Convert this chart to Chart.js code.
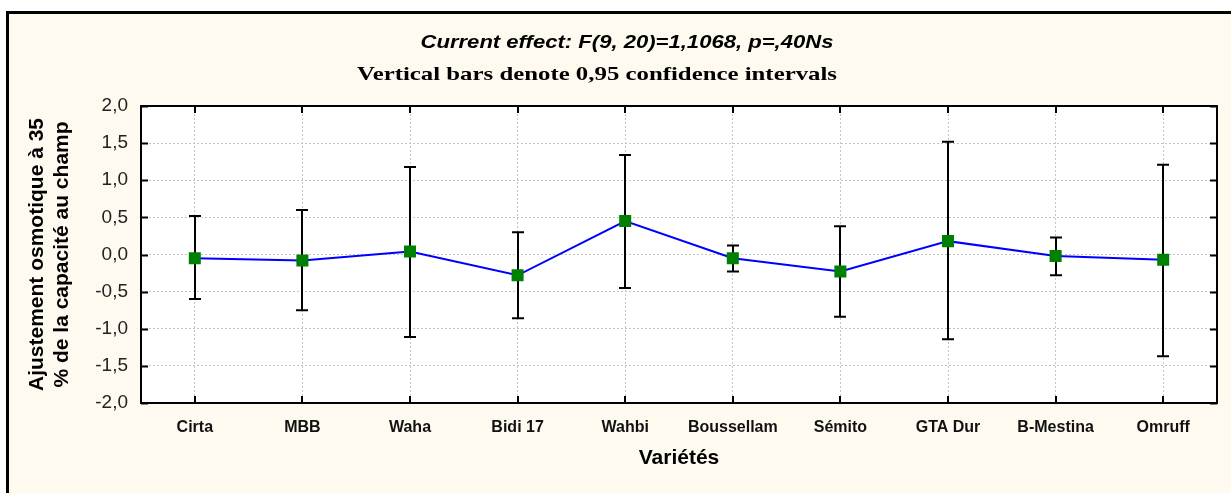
<!DOCTYPE html>
<html>
<head>
<meta charset="utf-8">
<title>Ajustement osmotique</title>
<script src="https://cdn.jsdelivr.net/npm/chart.js@4/dist/chart.umd.min.js"></script>
<style>
  html, body { margin: 0; padding: 0; background: #ffffff; }
  #wrap { width: 1231px; height: 493px; position: relative; }
</style>
</head>
<body>
<div id="wrap"><canvas id="chart"></canvas></div>
<script>
// values
var labels = ['Cirta', 'MBB', 'Waha', 'Bidi 17', 'Wahbi', 'Boussellam', 'Sémito', 'GTA Dur', 'B-Mestina', 'Omruff'];
var means = [-0.05, -0.08, 0.04, -0.28, 0.45, -0.05, -0.23, 0.18, -0.02, -0.07];
var upper = [0.52, 0.60, 1.18, 0.30, 1.34, 0.12, 0.38, 1.52, 0.23, 1.21];
var lower = [-0.60, -0.75, -1.11, -0.86, -0.45, -0.23, -0.84, -1.14, -0.28, -1.37];
var yTicks = [-2, -1.5, -1, -0.5, 0, 0.5, 1, 1.5, 2];

var titleText = 'Current effect: F(9, 20)=1,1068, p=,40Ns';
var subtitleText = 'Vertical bars denote 0,95 confidence intervals';
var yTitle = ['Ajustement osmotique à 35', '% de la capacité au champ'];
var xTitle = 'Variétés';

function fmt(v) {
    return v.toFixed(1).replace('.', ',');
}

// text squeezed/stretched to a given width
function wideText(ctx, text, x, y, font, width) {
    ctx.save();
    ctx.font = font;
    var w = ctx.measureText(text).width;
    ctx.translate(x, y);
    ctx.scale(width / w, 1);
    ctx.fillText(text, 0, 0);
    ctx.restore();
}

var backdrop = {
    id: 'backdrop',
    beforeDraw: function (chart) {
        var ctx = chart.ctx, a = chart.chartArea;
        ctx.save();
        ctx.fillStyle = '#ffffff';
        ctx.fillRect(0, 0, chart.width, chart.height);
        ctx.fillStyle = '#FFFAF0';
        ctx.fillRect(8, 13, chart.width - 8, chart.height - 13);
        ctx.strokeStyle = '#000000';
        ctx.lineWidth = 3;
        ctx.beginPath();
        ctx.moveTo(7.5, chart.height);
        ctx.lineTo(7.5, 12.5);
        ctx.lineTo(chart.width, 12.5);
        ctx.stroke();
        ctx.fillStyle = '#ffffff';
        ctx.fillRect(a.left, a.top, a.right - a.left, a.bottom - a.top);
        ctx.restore();
    }
};

var errorBars = {
    id: 'errorBars',
    beforeDatasetsDraw: function (chart) {
        var ctx = chart.ctx;
        var xs = chart.scales.x, ys = chart.scales.y;
        ctx.save();
        ctx.strokeStyle = '#000000';
        ctx.lineWidth = 2;
        for (var i = 0; i < labels.length; i++) {
            var x = Math.round(xs.getPixelForValue(i));
            var yu = ys.getPixelForValue(upper[i]);
            var yl = ys.getPixelForValue(lower[i]);
            ctx.beginPath();
            ctx.moveTo(x, yu);
            ctx.lineTo(x, yl);
            ctx.moveTo(x - 6, yu);
            ctx.lineTo(x + 6, yu);
            ctx.moveTo(x - 6, yl);
            ctx.lineTo(x + 6, yl);
            ctx.stroke();
        }
        ctx.restore();
    }
};

var frame = {
    id: 'frame',
    afterDraw: function (chart) {
        var ctx = chart.ctx, a = chart.chartArea;
        var xs = chart.scales.x, ys = chart.scales.y;
        ctx.save();
        ctx.strokeStyle = '#000000';
        ctx.lineWidth = 2;
        ctx.strokeRect(a.left, a.top, a.right - a.left, a.bottom - a.top);

        // small ticks pointing inwards on all four sides
        ctx.beginPath();
        yTicks.forEach(function (v) {
            var y = Math.round(ys.getPixelForValue(v)) + 0.5;
            ctx.moveTo(a.left, y); ctx.lineTo(a.left + 7, y);
            ctx.moveTo(a.right, y); ctx.lineTo(a.right - 7, y);
        });
        labels.forEach(function (l, i) {
            var x = Math.round(xs.getPixelForValue(i));
            ctx.moveTo(x, a.top); ctx.lineTo(x, a.top + 7);
            ctx.moveTo(x, a.bottom); ctx.lineTo(x, a.bottom - 7);
        });
        ctx.stroke();

        // titles
        ctx.fillStyle = '#000000';
        ctx.textAlign = 'center';
        ctx.textBaseline = 'middle';
        wideText(ctx, titleText, 627, 43, 'bold italic 19px "Liberation Sans"', 413);
        wideText(ctx, subtitleText, 597, 75, 'bold 19px "Liberation Serif"', 480);

        ctx.font = 'bold 21px "Liberation Sans"';
        var cy = (a.top + a.bottom) / 2;
        ctx.save();
        ctx.translate(37, cy);
        ctx.rotate(-Math.PI / 2);
        ctx.fillText(yTitle[0], 0, 0);
        ctx.restore();
        ctx.save();
        ctx.translate(62, cy);
        ctx.rotate(-Math.PI / 2);
        ctx.fillText(yTitle[1], 0, 0);
        ctx.restore();

        ctx.font = 'bold 21px "Liberation Sans"';
        ctx.fillText(xTitle, (a.left + a.right) / 2, 458);
        ctx.restore();
    }
};

drawChart();
function drawChart() {
    var ctx = document.getElementById('chart');

    var myChart = new Chart(ctx, {
        type: 'line',
        data: {
            labels: labels,
            datasets: [{
                data: means,
                borderColor: '#0000ff',
                borderWidth: 2,
                tension: 0,
                pointStyle: 'rect',
                pointRadius: 8.5,
                pointBackgroundColor: '#008000',
                pointBorderColor: '#008000',
                pointBorderWidth: 0
            }]
        },
        options: {
            responsive: true,
            maintainAspectRatio: false,
            animation: false,
            layout: {
                padding: { top: 106, right: 14, bottom: 0, left: 0 }
            },
            plugins: {
                legend: { display: false },
                tooltip: { enabled: false },
                title: { display: false }
            },
            scales: {
                x: {
                    type: 'category',
                    offset: true,
                    grid: {
                        offset: false,
                        color: '#c4c4c4',
                        lineWidth: 1,
                        drawTicks: false
                    },
                    border: { display: false, dash: [2, 2] },
                    ticks: {
                        autoSkip: false,
                        maxRotation: 0,
                        padding: 15,
                        color: '#111111',
                        font: { family: 'Liberation Sans', size: 16, weight: 'bold' }
                    },
                    afterFit: function (scale) { scale.height = 90; }
                },
                y: {
                    min: -2,
                    max: 2,
                    afterBuildTicks: function (scale) {
                        scale.ticks = yTicks.map(function (v) { return { value: v }; });
                    },
                    grid: {
                        color: '#c4c4c4',
                        lineWidth: 1,
                        drawTicks: false
                    },
                    border: { display: false, dash: [2, 2] },
                    ticks: {
                        padding: 13,
                        color: '#222222',
                        font: { family: 'Liberation Sans', size: 19 },
                        callback: function (v) { return fmt(v); }
                    },
                    afterFit: function (scale) { scale.width = 141; }
                }
            }
        },
        plugins: [backdrop, errorBars, frame]
    });
}
</script>
</body>
</html>
